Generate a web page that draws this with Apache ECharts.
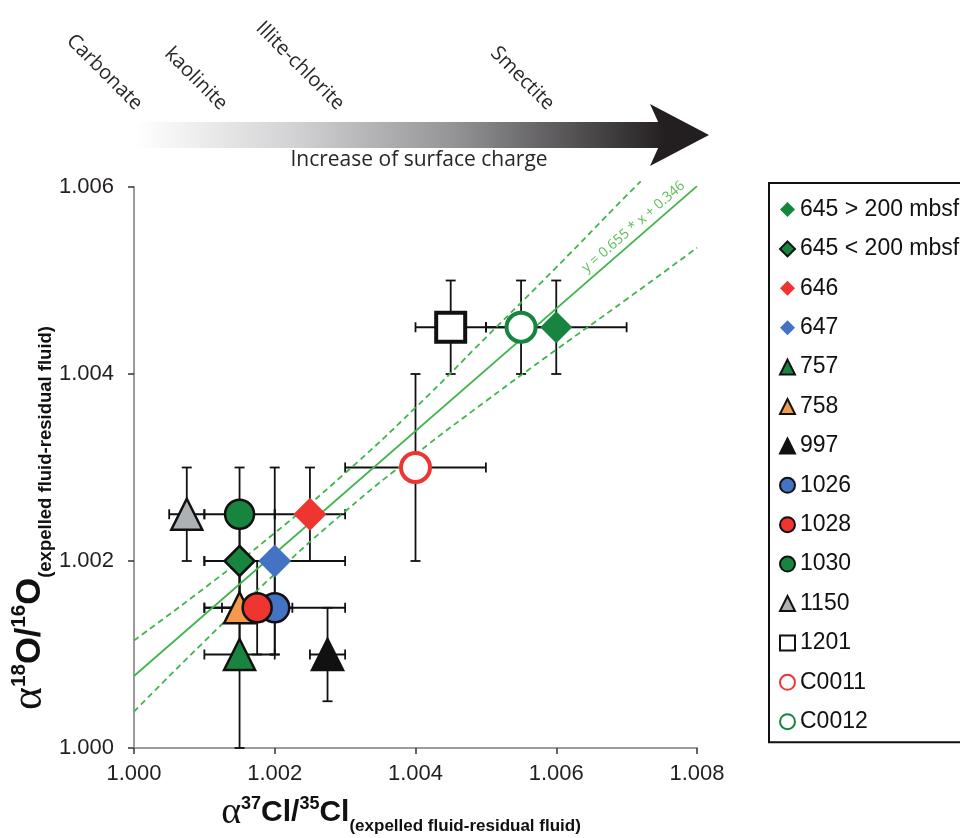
<!DOCTYPE html>
<html>
<head>
<meta charset="utf-8">
<script src="https://cdn.jsdelivr.net/npm/echarts@6/dist/echarts.min.js"></script>
<style>
  html, body { margin: 0; padding: 0; background: #ffffff; }
  #chart { width: 960px; height: 838px; }
</style>
</head>
<body>
<div id="chart"></div>
<script>
// Sites (legend order) and their isotope fractionation factors with uncertainties
const SITES = ['645 > 200 mbsf', '645 < 200 mbsf', '646', '647', '757', '758', '997',
               '1026', '1028', '1030', '1150', '1201', 'C0011', 'C0012'];
const ALPHA_CL = [1.0060, 1.0015, 1.0025, 1.0020, 1.0015, 1.0015, 1.00275,
                  1.0020, 1.00175, 1.0015, 1.00075, 1.0045, 1.0040, 1.0055];
const ALPHA_O  = [1.0045, 1.0020, 1.0025, 1.0020, 1.0010, 1.0015, 1.0010,
                  1.0015, 1.0015, 1.0025, 1.0025, 1.0045, 1.0030, 1.0045];
const ERR_CL   = [0.0010, 0.0005, 0.0005, 0.0010, 0.0005, 0.0005, 0.00025,
                  0.0010, 0.0005, 0.0005, 0.00025, 0.0005, 0.0010, 0.0005];
const ERR_O    = [0.0005, 0.0005, 0.0005, 0.0010, 0.0010, 0.0005, 0.0005,
                  0.0005, 0.0005, 0.0005, 0.0005, 0.0005, 0.0010, 0.0005];

// Linear fit through all sites and its confidence band
const FIT_SLOPE = 0.655;
const FIT_INTERCEPT = 0.34577;
const FIT_X = [1.000, 1.008];
const BAND_X     = [1.000, 1.001, 1.002, 1.003, 1.004, 1.005, 1.006, 1.007, 1.0072];
const BAND_UPPER = [1.00115, 1.00171, 1.00230, 1.00294, 1.00364, 1.00439, 1.00514, 1.00591, 1.00606];
const BAND_X_LOW = [1.000, 1.001, 1.002, 1.003, 1.004, 1.005, 1.006, 1.007, 1.008];
const BAND_LOWER = [1.00039, 1.00114, 1.00186, 1.00253, 1.00314, 1.00371, 1.00426, 1.00480, 1.00535];

// Axis ticks
const X_TICKS = ['1.000', '1.002', '1.004', '1.006', '1.008'];
const Y_TICKS = ['1.000', '1.002', '1.004', '1.006'];

// Surface-charge scale above the plot
const MINERALS = ['Carbonate', 'kaolinite', 'Illite-chlorite', 'Smectite'];

// Marker look for each site
const GREEN = '#17843f', RED = '#ee3530', BLUE = '#4473c3', ORANGE = '#f39a4c',
      GRAY = '#aeb1b4', INK = '#111111';
const MARKERS = [
  { symbol: 'diamond',  size: 32, color: GREEN,  border: null,  bw: 0 },
  { symbol: 'diamond',  size: 30, color: GREEN,  border: INK,   bw: 2.5 },
  { symbol: 'diamond',  size: 33, color: RED,    border: null,  bw: 0 },
  { symbol: 'diamond',  size: 33, color: BLUE,   border: null,  bw: 0 },
  { symbol: 'triangle', size: 31, color: GREEN,  border: INK,   bw: 2.5 },
  { symbol: 'triangle', size: 31, color: ORANGE, border: INK,   bw: 2.5 },
  { symbol: 'triangle', size: 31, color: INK,    border: INK,   bw: 2.5 },
  { symbol: 'circle',   size: 29, color: BLUE,   border: INK,   bw: 2.5 },
  { symbol: 'circle',   size: 29, color: RED,    border: INK,   bw: 2.5 },
  { symbol: 'circle',   size: 29, color: GREEN,  border: INK,   bw: 2.5 },
  { symbol: 'triangle', size: 31, color: GRAY,   border: INK,   bw: 2.5 },
  { symbol: 'rect',     size: 29, color: '#ffffff', border: INK, bw: 4 },
  { symbol: 'circle',   size: 29, color: '#ffffff', border: RED, bw: 4 },
  { symbol: 'circle',   size: 29, color: '#ffffff', border: GREEN, bw: 4 }
];

const SANS = '"Liberation Sans", Arial, Helvetica, sans-serif';
const TEXT_SANS = '"Open Sans", "Noto Sans", sans-serif';
const FIT_GREEN = '#3fb54b';

const chart = echarts.init(document.getElementById('chart'), null, { renderer: 'canvas' });

const pointSeries = SITES.map((name, i) => {
  const m = MARKERS[i];
  return {
    type: 'scatter',
    name: name,
    z: 4,
    symbol: m.symbol,
    symbolSize: m.size,
    data: [[ALPHA_CL[i], ALPHA_O[i]]],
    itemStyle: {
      color: m.color,
      borderColor: m.border || m.color,
      borderWidth: m.bw,
      opacity: 1
    },
    emphasis: { disabled: true },
    silent: true
  };
});

const errorSeries = {
  type: 'custom',
  name: 'error bars',
  z: 2,
  silent: true,
  data: SITES.map((s, i) => [ALPHA_CL[i], ALPHA_O[i], ERR_CL[i], ERR_O[i]]),
  encode: { x: 0, y: 1 },
  renderItem: function (params, api) {
    const x = api.value(0), y = api.value(1), ex = api.value(2), ey = api.value(3);
    const l = api.coord([x - ex, y]), r = api.coord([x + ex, y]);
    const t = api.coord([x, y + ey]), b = api.coord([x, y - ey]);
    const cap = 5;
    const st = { stroke: '#111111', lineWidth: 1.8 };
    const seg = (x1, y1, x2, y2) => ({ type: 'line', shape: { x1, y1, x2, y2 }, style: st });
    return {
      type: 'group',
      children: [
        seg(l[0], l[1], r[0], r[1]),
        seg(t[0], t[1], b[0], b[1]),
        seg(l[0], l[1] - cap, l[0], l[1] + cap),
        seg(r[0], r[1] - cap, r[0], r[1] + cap),
        seg(t[0] - cap, t[1], t[0] + cap, t[1]),
        seg(b[0] - cap, b[1], b[0] + cap, b[1])
      ]
    };
  }
};

const fitLine = {
  type: 'line',
  name: 'fit',
  z: 3,
  silent: true,
  clip: false,
  showSymbol: false,
  data: FIT_X.map(x => [x, FIT_SLOPE * x + FIT_INTERCEPT]),
  lineStyle: { color: FIT_GREEN, width: 1.8 }
};
const bandUpper = {
  type: 'line', name: 'band upper', z: 3, silent: true, clip: false, showSymbol: false,
  smooth: true,
  data: BAND_X.map((x, i) => [x, BAND_UPPER[i]]),
  lineStyle: { color: FIT_GREEN, width: 1.8, type: [6, 4] }
};
const bandLower = {
  type: 'line', name: 'band lower', z: 3, silent: true, clip: false, showSymbol: false,
  smooth: true,
  data: BAND_X_LOW.map((x, i) => [x, BAND_LOWER[i]]),
  lineStyle: { color: FIT_GREEN, width: 1.8, type: [6, 4] }
};

const tickLabel = (ticks, min, step) => v => {
  const k = Math.round((v - min) / step);
  return ticks[k] !== undefined ? ticks[k] : '';
};

const option = {
  animation: false,
  backgroundColor: '#ffffff',
  grid: { left: 134, right: 263, top: 187, bottom: 90, containLabel: false },
  xAxis: {
    type: 'value', min: 1.000, max: 1.008, interval: 0.002,
    axisLine: { show: true, lineStyle: { color: '#9b9b9b', width: 2 } },
    axisTick: { show: true, length: 6, lineStyle: { color: '#333333', width: 1.5 } },
    splitLine: { show: false },
    axisLabel: {
      formatter: tickLabel(X_TICKS, 1.000, 0.002),
      fontFamily: SANS, fontSize: 22, color: '#231f20', margin: 15
    }
  },
  yAxis: {
    type: 'value', min: 1.000, max: 1.006, interval: 0.002,
    axisLine: { show: true, lineStyle: { color: '#9b9b9b', width: 2 } },
    axisTick: { show: true, length: 6, lineStyle: { color: '#333333', width: 1.5 } },
    splitLine: { show: false },
    axisLabel: {
      formatter: tickLabel(Y_TICKS, 1.000, 0.002),
      fontFamily: SANS, fontSize: 22, color: '#231f20', margin: 20
    }
  },
  legend: {
    data: SITES,
    orient: 'vertical',
    left: 769,
    top: 183,
    padding: [15, 40, 9, 10],
    itemGap: 16.4,
    itemWidth: 15,
    itemHeight: 15,
    borderColor: '#111111',
    borderWidth: 2,
    backgroundColor: '#ffffff',
    selectedMode: false,
    textStyle: { fontFamily: SANS, fontSize: 23, color: '#111111', lineHeight: 20 }
  },
  series: [errorSeries, fitLine, bandUpper, bandLower].concat(pointSeries)
};

chart.setOption(option);

// Decorations: charge arrow, mineral names, axis titles and the fit equation
function decorate() {
  const xm = 1.0072;
  const pm = chart.convertToPixel({ gridIndex: 0 }, [xm, FIT_SLOPE * xm + FIT_INTERCEPT]);
  const p1 = chart.convertToPixel({ gridIndex: 0 }, [1.008, FIT_SLOPE * 1.008 + FIT_INTERCEPT]);
  const ang = Math.atan2(-(p1[1] - pm[1]), p1[0] - pm[0]);
  const off = 11;
  const lx = pm[0] - off * Math.sin(ang), ly = pm[1] - off * Math.cos(ang);

  const mineralEnds = [[139, 107], [224, 107], [341, 107], [551, 107]];

  const graphics = [
    {
      type: 'rect', silent: true,
      shape: { x: 136, y: 122, width: 530, height: 26 },
      style: {
        fill: new echarts.graphic.LinearGradient(0, 0, 1, 0, [
          { offset: 0, color: '#ffffff' },
          { offset: 0.3, color: '#d2d2d4' },
          { offset: 0.6, color: '#949496' },
          { offset: 1, color: '#231f20' }
        ])
      }
    },
    {
      type: 'polygon', silent: true,
      shape: { points: [[650, 104], [709, 135], [650, 166], [664, 135]] },
      style: { fill: '#231f20' }
    },
    {
      type: 'text', silent: true, x: 419, y: 160,
      style: { text: 'Increase of surface charge', font: '21px ' + TEXT_SANS, fill: '#2a2627',
               align: 'center', verticalAlign: 'middle' }
    }
  ];

  MINERALS.forEach((name, i) => {
    graphics.push({
      type: 'text', silent: true,
      x: mineralEnds[i][0], y: mineralEnds[i][1], rotation: -Math.PI / 4,
      style: { text: name, font: '20px ' + TEXT_SANS, fill: '#2a2627',
               align: 'right', verticalAlign: 'middle' }
    });
  });

  const titleRich = (s, subSize) => ({
    al: { fontFamily: '"Liberation Serif", serif', fontSize: 38 * s, lineHeight: 40 * s, verticalAlign: 'middle', fill: '#111' },
    m: { fontFamily: SANS, fontWeight: 'bold', fontSize: 30 * s, lineHeight: 40 * s, verticalAlign: 'middle', fill: '#111' },
    sup: { fontFamily: SANS, fontWeight: 'bold', fontSize: 18 * s, lineHeight: 18 * s, verticalAlign: 'top', fill: '#111', padding: [2, 0, 0, 0] },
    sub: { fontFamily: SANS, fontWeight: 'bold', fontSize: subSize, lineHeight: subSize, verticalAlign: 'bottom', fill: '#111', padding: [0, 0, -2, 0] }
  });

  graphics.push({
    type: 'text', silent: true, x: 401, y: 813,
    style: {
      text: '{al|α}{sup|37}{m|Cl/}{sup|35}{m|Cl}{sub|(expelled fluid-residual fluid)}',
      rich: titleRich(1, 17), align: 'center', verticalAlign: 'middle'
    }
  });
  graphics.push({
    type: 'text', silent: true, x: 30, y: 518, rotation: Math.PI / 2,
    style: {
      text: '{al|α}{sup|18}{m|O/}{sup|16}{m|O}{sub|(expelled fluid-residual fluid)}',
      rich: titleRich(1.15, 18.5), align: 'center', verticalAlign: 'middle'
    }
  });

  graphics.push({
    type: 'text', silent: true, x: lx, y: ly, rotation: ang,
    style: {
      text: 'y = ' + FIT_SLOPE.toFixed(3) + ' * x + ' + FIT_INTERCEPT.toFixed(3),
      font: '14px ' + TEXT_SANS, fill: '#5cbd55', align: 'center', verticalAlign: 'middle'
    }
  });

  chart.setOption({ graphic: { elements: graphics } });
}
decorate();
</script>
</body>
</html>
